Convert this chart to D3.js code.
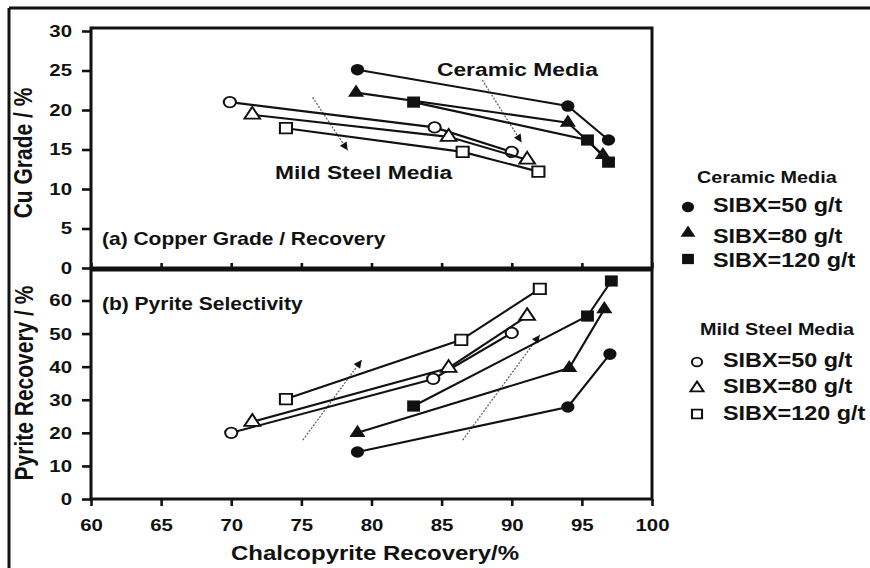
<!DOCTYPE html>
<html>
<head>
<meta charset="utf-8">
<script src="https://cdn.jsdelivr.net/npm/d3@7"></script>
<style>
  html, body { margin: 0; padding: 0; background: #fff; }
  svg { display: block; font-family: "Liberation Sans", Arial, sans-serif; font-weight: bold; }
</style>
</head>
<body>
<svg id="chart" width="870" height="568"></svg>
<script>
// Chalcopyrite recovery (%) paired with Cu grade (%), panel (a)
const gradeCeramic50  = [[79.0, 25.1], [94.0, 20.5], [96.9, 16.2]];
const gradeCeramic80  = [[78.9, 22.2], [94.0, 18.4], [96.5, 14.3]];
const gradeCeramic120 = [[83.0, 21.0], [95.4, 16.2], [96.9, 13.4]];
const gradeSteel50    = [[69.9, 21.0], [84.5, 17.8], [90.0, 14.7]];
const gradeSteel80    = [[71.5, 19.4], [85.5, 16.6], [91.1, 13.7]];
const gradeSteel120   = [[73.9, 17.7], [86.5, 14.7], [91.9, 12.2]];

// Chalcopyrite recovery (%) paired with pyrite recovery (%), panel (b)
const pyriteCeramic50  = [[79.0, 14.2], [94.0, 27.8], [97.0, 43.8]];
const pyriteCeramic80  = [[79.0, 20.0], [94.1, 39.6], [96.6, 57.4]];
const pyriteCeramic120 = [[83.0, 28.1], [95.4, 55.3], [97.1, 65.9]];
const pyriteSteel50    = [[70.0, 20.0], [84.4, 36.3], [90.0, 50.2]];
const pyriteSteel80    = [[71.5, 23.3], [85.5, 39.6], [91.1, 55.3]];
const pyriteSteel120   = [[73.9, 30.2], [86.4, 48.1], [92.0, 63.5]];

// Axis ticks
const xTicks = [60, 65, 70, 75, 80, 85, 90, 95, 100];
const gradeTicks = [0, 5, 10, 15, 20, 25, 30];
const pyriteTicks = [0, 10, 20, 30, 40, 50, 60];

// Legend entries
const legendGroups = ["Ceramic Media", "Mild Steel Media"];
const legendLabels = ["SIBX=50 g/t", "SIBX=80 g/t", "SIBX=120 g/t"];

// Trend arrows (data coordinates: [recovery, value])
const gradeArrows  = [[[75.8, 21.6], [78.3, 14.9]], [[87.9, 23.8], [90.7, 15.9]]];
const pyriteArrows = [[[75.1, 17.8], [79.3, 42.0]], [[86.5, 17.8], [92.0, 49.6]]];

const svg = d3.select("#chart");
const SX = 1.2; // horizontal text stretch
const ink = "#111";

const x = d3.scaleLinear([60, 100], [91, 652]);
const yTop = d3.scaleLinear([0, 30], [268, 31]);
const yBot = d3.scaleLinear([0, 60], [499, 300.5]);

// outer frame
svg.append("line").attr("x1", 9).attr("x2", 870).attr("y1", 8).attr("y2", 8)
  .attr("stroke", ink).attr("stroke-width", 3);
svg.append("line").attr("x1", 9).attr("x2", 9).attr("y1", 8).attr("y2", 568)
  .attr("stroke", ink).attr("stroke-width", 3);

function stretchText(sel) {
  sel.each(function () {
    const t = d3.select(this);
    const tx = +t.attr("x") || 0, ty = +t.attr("y") || 0;
    t.attr("x", 0).attr("y", 0).attr("transform", `translate(${tx},${ty}) scale(${SX},1)`);
  });
}

function label(text, px, py, size, anchor = "start") {
  return svg.append("text").attr("transform", `translate(${px},${py}) scale(${SX},1)`)
    .attr("font-size", size).attr("text-anchor", anchor).attr("fill", ink).text(text);
}

// axes
function styleAxis(g) {
  g.select(".domain").remove();
  g.selectAll(".tick line").attr("stroke", ink).attr("stroke-width", 2.6);
  g.selectAll(".tick text").attr("fill", ink).attr("font-size", 17)
    .attr("font-family", "Liberation Sans, Arial, sans-serif").attr("font-weight", "bold");
  stretchText(g.selectAll(".tick text"));
}

svg.append("g").attr("transform", "translate(91,0)")
  .call(d3.axisLeft(yTop).tickValues(gradeTicks).tickSize(9).tickPadding(10))
  .call(styleAxis);
svg.append("g").attr("transform", "translate(91,0)")
  .call(d3.axisLeft(yBot).tickValues(pyriteTicks).tickSize(9).tickPadding(10))
  .call(styleAxis);
svg.append("g").attr("transform", "translate(0,268)")
  .call(d3.axisTop(x).tickValues(xTicks).tickSize(5).tickFormat(""))
  .call(styleAxis);
svg.append("g").attr("transform", "translate(0,499)")
  .call(d3.axisBottom(x).tickValues(xTicks).tickSize(7).tickPadding(13))
  .call(styleAxis);

// panel frames
svg.append("rect").attr("x", 91).attr("y", 28).attr("width", 652 - 91).attr("height", 268 - 28)
  .attr("fill", "none").attr("stroke", ink).attr("stroke-width", 3);
svg.append("rect").attr("x", 91).attr("y", 270).attr("width", 652 - 91).attr("height", 499 - 270)
  .attr("fill", "none").attr("stroke", ink).attr("stroke-width", 3);

// axis titles
label("Chalcopyrite Recovery/%", 375, 560, 20, "middle");
svg.append("text").attr("transform", `translate(32,153) scale(${SX},1) rotate(-90)`)
  .attr("font-size", 21).attr("text-anchor", "middle").attr("fill", ink).text("Cu Grade / %");
svg.append("text").attr("transform", `translate(33,383) scale(${SX},1) rotate(-90)`)
  .attr("font-size", 21).attr("text-anchor", "middle").attr("fill", ink).text("Pyrite Recovery / %");

// arrowhead
svg.append("defs").append("marker").attr("id", "head")
  .attr("viewBox", "0 0 10 10").attr("refX", 10).attr("refY", 5)
  .attr("markerWidth", 9).attr("markerHeight", 8).attr("markerUnits", "userSpaceOnUse")
  .attr("orient", "auto")
  .append("path").attr("d", "M0,0L10,5L0,10Z").attr("fill", ink);

function drawArrows(list, yScale) {
  list.forEach(([a, b]) => {
    svg.append("line")
      .attr("x1", x(a[0])).attr("y1", yScale(a[1]))
      .attr("x2", x(b[0])).attr("y2", yScale(b[1]))
      .attr("stroke", "#666").attr("stroke-width", 1.3).attr("stroke-dasharray", "2,1.5")
      .attr("marker-end", "url(#head)");
  });
}
drawArrows(gradeArrows, yTop);
drawArrows(pyriteArrows, yBot);

// markers
const shapes = {
  circle: d3.symbolCircle, triangle: d3.symbolTriangle, square: d3.symbolSquare
};
function marker(g, shape, filled, px, py, scale = 1) {
  const sizes = filled
    ? { circle: 105, triangle: 85, square: 125 }
    : { circle: 88, triangle: 80, square: 110 };
  g.append("path")
    .attr("d", d3.symbol(shapes[shape], sizes[shape] * scale)())
    .attr("transform", `translate(${px},${py}) scale(1.15,1)`)
    .attr("fill", filled ? ink : "#fff")
    .attr("stroke", ink).attr("stroke-width", filled ? 0 : 1.8);
}

const line = (yScale) => d3.line().x(d => x(d[0])).y(d => yScale(d[1]));

function drawSeries(data, yScale, shape, filled) {
  const g = svg.append("g");
  g.append("path").attr("d", line(yScale)(data)).attr("fill", "none")
    .attr("stroke", ink).attr("stroke-width", 2.1);
  data.forEach(d => marker(g, shape, filled, x(d[0]), yScale(d[1])));
}

[[gradeSteel50, "circle"], [gradeSteel80, "triangle"], [gradeSteel120, "square"]]
  .forEach(([d, s]) => drawSeries(d, yTop, s, false));
[[gradeCeramic50, "circle"], [gradeCeramic80, "triangle"], [gradeCeramic120, "square"]]
  .forEach(([d, s]) => drawSeries(d, yTop, s, true));
[[pyriteSteel50, "circle"], [pyriteSteel80, "triangle"], [pyriteSteel120, "square"]]
  .forEach(([d, s]) => drawSeries(d, yBot, s, false));
[[pyriteCeramic50, "circle"], [pyriteCeramic80, "triangle"], [pyriteCeramic120, "square"]]
  .forEach(([d, s]) => drawSeries(d, yBot, s, true));

// in-plot annotations
label("Ceramic Media", 437, 76, 19);
label("Mild Steel Media", 275, 179, 19);
label("(a) Copper Grade / Recovery", 102, 245, 17.5);
label("(b) Pyrite Selectivity", 102, 310, 17.5);

// legend
const legendShapes = ["circle", "triangle", "square"];
label(legendGroups[0], 697, 183, 16.5);
const cerRows = [207, 233, 259], cerBase = [212, 243, 267];
legendLabels.forEach((t, i) => {
  marker(svg, legendShapes[i], true, 688, cerRows[i], 0.85);
  label(t, 713, cerBase[i], 19.5);
});
label(legendGroups[1], 700, 335, 16.5);
const steelRows = [362, 388, 414], steelBase = [367, 393, 420];
legendLabels.forEach((t, i) => {
  marker(svg, legendShapes[i], false, 697, steelRows[i], 0.7);
  label(t, 723, steelBase[i], 19.5);
});
</script>
</body>
</html>
